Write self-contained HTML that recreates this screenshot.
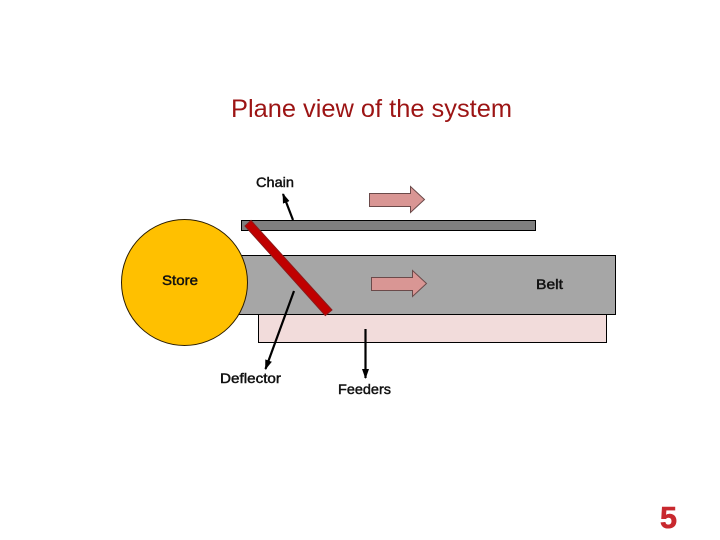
<!DOCTYPE html>
<html><head><meta charset="utf-8"><style>
html,body{margin:0;padding:0;background:#fff}
svg{display:block}
text{font-family:"Liberation Sans",sans-serif}
.l{font-size:14px;fill:#111;stroke:#111;stroke-width:.45}
</style></head><body>
<svg width="720" height="540" viewBox="0 0 720 540" xmlns="http://www.w3.org/2000/svg">
<defs><marker id="a" markerWidth="10" markerHeight="12" refX="9" refY="4" orient="auto" markerUnits="userSpaceOnUse"><path d="M0 0.500L10 4L0 7.500Z" fill="#000"/></marker></defs>
<rect x="258.500" y="314.500" width="348" height="28" fill="#f2dcdb" stroke="#000"/>
<rect x="230" y="255.500" width="385.500" height="59" fill="#a6a6a6" stroke="#000"/>
<rect x="241.500" y="220.500" width="294" height="10" fill="#7f7f7f" stroke="#000"/>
<circle cx="184.500" cy="282.500" r="63" fill="#ffc000" stroke="#2b1d00"/>
<polygon points="245,226 251,220.500 332,310 325.300,315.500" fill="#c00000" stroke="#8b1a1a" stroke-width="1"/>
<path d="M369.500 193.500H410.500V186.500L424.500 199.500L410.500 212.500V206.500H369.500Z" fill="#d99694" stroke="#6b4a4a"/>
<path d="M371.500 277.500H412.500V270.500L426.500 283.500L412.500 296.500V290.500H371.500Z" fill="#d99694" stroke="#6b4a4a"/>
<line x1="293" y1="220" x2="283" y2="194" stroke="#000" stroke-width="2.200" marker-end="url(#a)"/>
<line x1="294" y1="291" x2="265.500" y2="369" stroke="#000" stroke-width="2.200" marker-end="url(#a)"/>
<line x1="365.500" y1="329" x2="365.500" y2="378" stroke="#000" stroke-width="2.200" marker-end="url(#a)"/>
<text x="231" y="117" font-size="25" fill="#9c1414" textLength="281" lengthAdjust="spacingAndGlyphs">Plane view of the system</text>
<text class="l" x="256" y="187" textLength="38" lengthAdjust="spacingAndGlyphs">Chain</text>
<text class="l" x="162" y="285" textLength="36" lengthAdjust="spacingAndGlyphs">Store</text>
<text class="l" x="536" y="289" textLength="27" lengthAdjust="spacingAndGlyphs">Belt</text>
<text class="l" x="220" y="383" textLength="61" lengthAdjust="spacingAndGlyphs">Deflector</text>
<text class="l" x="338" y="394" textLength="53" lengthAdjust="spacingAndGlyphs">Feeders</text>
<text x="660" y="528" font-size="31" font-weight="bold" fill="#c8282e" stroke="#c8282e" stroke-width=".6" textLength="17" lengthAdjust="spacingAndGlyphs">5</text>
</svg>
</body></html>
